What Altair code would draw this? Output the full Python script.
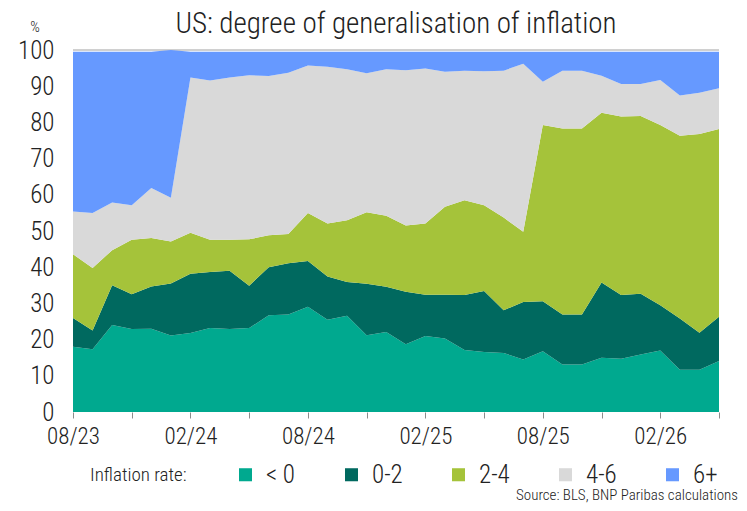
import json
import altair as alt
import pandas as pd

months = ["08/23", "09/23", "10/23", "11/23", "12/23",
          "01/24", "02/24", "03/24", "04/24", "05/24", "06/24", "07/24",
          "08/24", "09/24", "10/24", "11/24", "12/24",
          "01/25", "02/25", "03/25", "04/25", "05/25", "06/25", "07/25",
          "08/25", "09/25", "10/25", "11/25", "12/25",
          "01/26", "02/26", "03/26", "04/26", "05/26"]
tick_labels = ["08/23", "02/24", "08/24", "02/25", "08/25", "02/26"]

categories = ["< 0", "0-2", "2-4", "4-6", "6+"]
colors = ["#00A98F", "#00695F", "#A5C33A", "#D9D9D9", "#6699FF"]

below_0 = [18.0, 17.3, 24.0, 22.9, 23.0, 21.1, 21.8, 23.2, 22.9, 23.2, 26.7, 26.9,
           29.1, 25.5, 26.6, 21.2, 22.1, 18.7, 21.0, 20.3, 17.1, 16.6, 16.3, 14.5,
           16.8, 13.1, 13.1, 15.0, 14.7, 15.9, 17.0, 11.7, 11.7, 14.1]
from_0_2 = [8.0, 5.2, 11.0, 9.6, 11.7, 14.4, 16.4, 15.5, 16.1, 11.7, 13.3, 14.2,
            12.6, 11.9, 9.3, 14.2, 12.5, 14.5, 11.4, 12.1, 15.2, 16.8, 11.8, 15.9,
            13.8, 13.8, 13.8, 20.8, 17.6, 16.8, 12.5, 14.1, 10.2, 12.2]
from_2_4 = [17.6, 17.3, 9.7, 15.1, 13.4, 11.6, 11.3, 8.9, 8.6, 12.8, 8.8, 8.1,
            13.3, 14.7, 17.1, 19.8, 19.6, 18.3, 19.7, 24.3, 26.2, 23.7, 25.6, 19.4,
            48.7, 51.4, 51.4, 46.9, 49.3, 49.1, 49.8, 50.5, 54.9, 51.9]
from_4_6 = [11.8, 15.2, 13.2, 9.5, 13.8, 12.1, 42.9, 44.0, 44.8, 45.3, 44.0, 44.5,
            40.7, 43.3, 41.7, 38.4, 40.5, 42.9, 42.8, 37.3, 35.8, 37.0, 40.6, 46.4,
            11.9, 16.0, 16.0, 10.2, 9.0, 8.8, 12.4, 11.1, 11.4, 11.2]
above_6 = [44.1, 44.5, 41.6, 42.4, 37.6, 40.8, 7.1, 7.9, 7.1, 6.5, 6.7, 5.8,
           3.8, 4.1, 4.8, 5.9, 4.8, 5.1, 4.6, 5.5, 5.2, 5.4, 5.2, 3.3,
           8.3, 5.2, 5.2, 6.6, 8.9, 8.9, 7.8, 12.1, 11.3, 10.1]

series = [below_0, from_0_2, from_2_4, from_4_6, above_6]
rows = []
for ci, (cat, vals) in enumerate(zip(categories, series)):
    for i, v in enumerate(vals):
        rows.append({"idx": i, "month": months[i], "cat": cat, "ord": ci, "value": v})
df = pd.DataFrame(rows)

FONT = "Roboto Condensed, Liberation Sans Narrow, Roboto"
FW = 300
TXT = "#222222"
W, H = 646, 362

label_expr = f"datum.value % 6 == 0 ? {json.dumps(tick_labels)}[datum.value / 6] : ''"

y_scale = alt.Scale(domain=[0, 100], nice=False)
y_axis = alt.Axis(values=list(range(0, 101, 10)), title=None, domain=False,
                  ticks=False, grid=False, labelFont=FONT, labelFontWeight=FW,
                  labelFontSize=25, labelColor=TXT, labelPadding=19,
                  labelOverlap=False)

base = alt.Chart(df)

top_rule = alt.Chart(pd.DataFrame({"value": [100]})).mark_rule(
    color="#D0D0D0", strokeWidth=2).encode(
    y=alt.Y("value:Q", scale=y_scale, axis=y_axis))

areas = base.mark_area(interpolate="linear").encode(
    x=alt.X("idx:Q",
            scale=alt.Scale(domain=[0, 33], nice=False, zero=False),
            axis=alt.Axis(values=list(range(0, 34, 3)), labelExpr=label_expr,
                          title=None, domain=False, grid=False, ticks=True,
                          tickSize=6, tickColor="#8C8C8C", tickWidth=1,
                          labelFont=FONT, labelFontWeight=FW, labelFontSize=23,
                          labelColor=TXT, labelPadding=7, labelFlush=False,
                          labelOverlap=False)),
    y=alt.Y("value:Q", stack="zero", scale=y_scale, axis=y_axis),
    color=alt.Color("cat:N",
                    scale=alt.Scale(domain=categories, range=colors),
                    legend=alt.Legend(title="Inflation rate:", orient="none",
                                      direction="horizontal", legendX=17, legendY=412,
                                      titleOrient="left", titleFont=FONT,
                                      titleFontSize=19, titleFontWeight=FW,
                                      titleColor=TXT, titlePadding=46,
                                      labelFont=FONT, labelFontWeight=FW,
                                      labelFontSize=25, labelColor=TXT,
                                      symbolType="square", symbolSize=170,
                                      symbolStrokeWidth=0, columnPadding=43,
                                      labelOffset=8)),
    order=alt.Order("ord:Q", sort="ascending"),
)

title = alt.Chart(pd.DataFrame({"t": ["US: degree of generalisation of inflation"]})).mark_text(
    font=FONT, fontWeight=FW, fontSize=29, color=TXT, align="center", baseline="middle"
).encode(text="t:N", x=alt.value(W / 2), y=alt.value(-26))

pct = alt.Chart(pd.DataFrame({"t": ["%"]})).mark_text(
    font=FONT, fontWeight=FW, fontSize=15, color=TXT, align="center", baseline="middle"
).encode(text="t:N", x=alt.value(-38), y=alt.value(-23))

source = alt.Chart(pd.DataFrame({"t": ["Source: BLS, BNP Paribas calculations"]})).mark_text(
    font=FONT, fontWeight=FW, fontSize=15, color=TXT, align="right", baseline="bottom"
).encode(text="t:N", x=alt.value(665), y=alt.value(453))

chart = alt.layer(top_rule, areas, title, pct, source).properties(
    width=W, height=H,
    autosize=alt.AutoSizeParams(type="none"),
    padding={"left": 65, "top": 42, "right": 20, "bottom": 91},
).configure_view(stroke=None)

chart.save("out.html", embed_options={"renderer": "svg", "actions": False})
